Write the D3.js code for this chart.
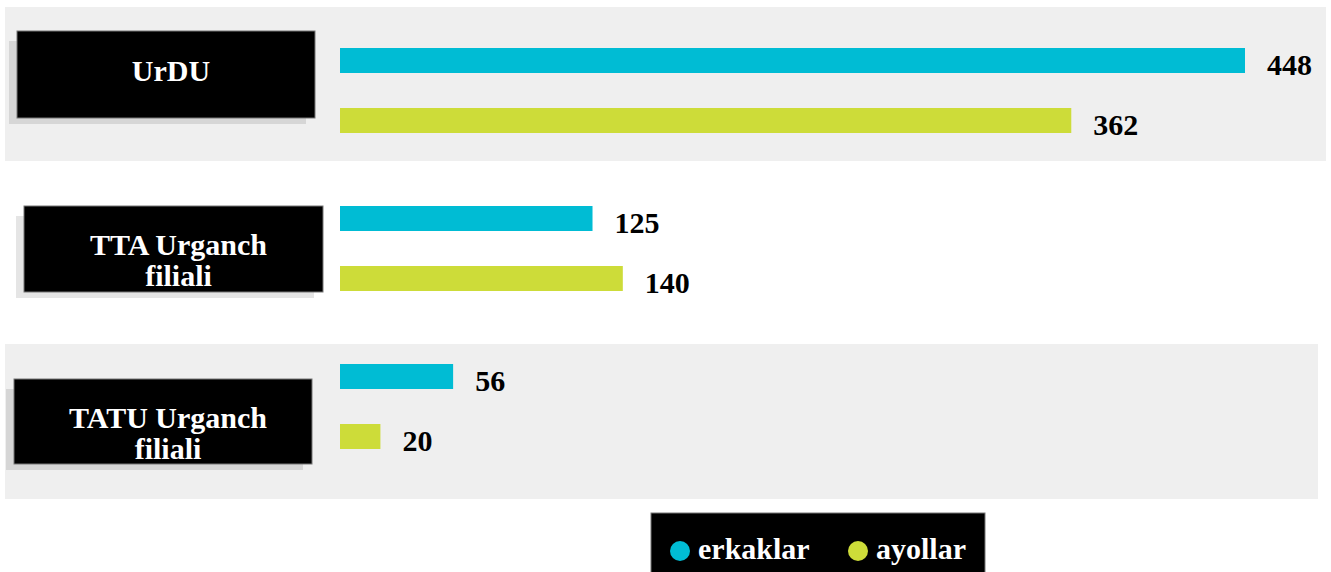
<!DOCTYPE html>
<html>
<head>
<meta charset="utf-8">
<script src="https://cdn.jsdelivr.net/npm/d3@7"></script>
<style>
  body { margin: 0; background: #fff; }
  text { font-family: "Liberation Serif", "Times New Roman", serif; font-weight: bold; }
</style>
</head>
<body>
<svg class="chart" width="1331" height="572"></svg>
<script>
// data
var categories = ["UrDU", "TTA Urganch filiali", "TATU Urganch filiali"];
var series = ["erkaklar", "ayollar"];
var erkaklar = [448, 125, 56];
var ayollar = [362, 140, 20];
var colors = ["#00bcd4", "#cddc39"];

// category label lines (as shown in the boxes)
var catLines = [["UrDU"], ["TTA Urganch", "filiali"], ["TATU Urganch", "filiali"]];

// layout bits: shaded panels + black label boxes (they wobble a bit in the original)
var panels = [[5, 7, 1321, 154], null, [5, 344, 1313, 155]];
var boxes = [[17, 31, 298, 87], [24, 206, 299, 86], [14, 379, 298, 85]];

var rows = categories.map(function(c, i) {
  return { cat: c, lines: catLines[i], vals: [erkaklar[i], ayollar[i]], panel: panels[i], box: boxes[i] };
});

var svg = d3.select(".chart");

// scales
var x = d3.scaleLinear()
    .domain([0, 448])
    .range([340, 1245]);

var y = d3.scaleBand()
    .domain(categories)
    .range([11.5, 485.5]);

var inner = d3.scalePoint()
    .domain(series)
    .range([-30, 30]);

var barH = 25;
var fs = 30;

// background panels
svg.selectAll("rect.panel")
    .data(rows.filter(function(d) { return d.panel; }))
  .enter().append("rect")
    .attr("class", "panel")
    .attr("x", function(d) { return d.panel[0]; })
    .attr("y", function(d) { return d.panel[1]; })
    .attr("width", function(d) { return d.panel[2]; })
    .attr("height", function(d) { return d.panel[3]; })
    .attr("fill", "#efefef");

// category label boxes with a soft shadow
var lab = svg.selectAll("g.lab")
    .data(rows)
  .enter().append("g")
    .attr("class", "lab");

lab.append("rect")
    .attr("x", function(d) { return d.box[0] - 8; })
    .attr("y", function(d) { return d.box[1] + 10; })
    .attr("width", function(d) { return d.box[2] - 1; })
    .attr("height", function(d) { return d.box[3] - 4; })
    .attr("fill", "rgba(0,0,0,0.1)");

lab.append("rect")
    .attr("x", function(d) { return d.box[0]; })
    .attr("y", function(d) { return d.box[1]; })
    .attr("width", function(d) { return d.box[2]; })
    .attr("height", function(d) { return d.box[3]; })
    .attr("fill", "#000")
    .attr("stroke", "#777")
    .attr("stroke-width", 1);

lab.each(function(d) {
  var g = d3.select(this);
  var cx = d.box[0] + d.box[2] / 2 + 5;
  var cy = d.box[1] + d.box[3] / 2;
  d.lines.forEach(function(t, k) {
    g.append("text")
        .attr("x", cx)
        .attr("y", cy + 6 + k * 31)
        .attr("text-anchor", "middle")
        .attr("fill", "#fff")
        .attr("font-size", fs)
        .text(t);
  });
});

// bars
var grp = svg.selectAll("g.grp")
    .data(rows)
  .enter().append("g")
    .attr("class", "grp")
    .attr("transform", function(d) { return "translate(0," + (y(d.cat) + y.bandwidth() / 2) + ")"; });

var bar = grp.selectAll("g.bar")
    .data(function(d) { return d.vals.map(function(v, k) { return { s: series[k], v: v, c: colors[k] }; }); })
  .enter().append("g")
    .attr("class", "bar")
    .attr("transform", function(d) { return "translate(0," + inner(d.s) + ")"; });

bar.append("rect")
    .attr("x", x(0))
    .attr("y", -barH / 2)
    .attr("width", function(d) { return x(d.v) - x(0); })
    .attr("height", barH)
    .attr("fill", function(d) { return d.c; });

bar.append("text")
    .attr("x", function(d) { return x(d.v) + 22; })
    .attr("y", 14)
    .attr("fill", "#000")
    .attr("font-size", fs)
    .text(function(d) { return d.v; });

// legend
var leg = svg.append("g");
leg.append("rect")
    .attr("x", 651).attr("y", 513)
    .attr("width", 334).attr("height", 70)
    .attr("fill", "#000")
    .attr("stroke", "#777");

var legX = [680, 858];
var item = leg.selectAll("g.item")
    .data(series)
  .enter().append("g")
    .attr("class", "item")
    .attr("transform", function(d, i) { return "translate(" + legX[i] + ",551)"; });

item.append("circle")
    .attr("r", 10)
    .attr("fill", function(d, i) { return colors[i]; });

item.append("text")
    .attr("x", 18)
    .attr("y", 8)
    .attr("fill", "#fff")
    .attr("font-size", fs)
    .text(function(d) { return d; });
</script>
</body>
</html>
